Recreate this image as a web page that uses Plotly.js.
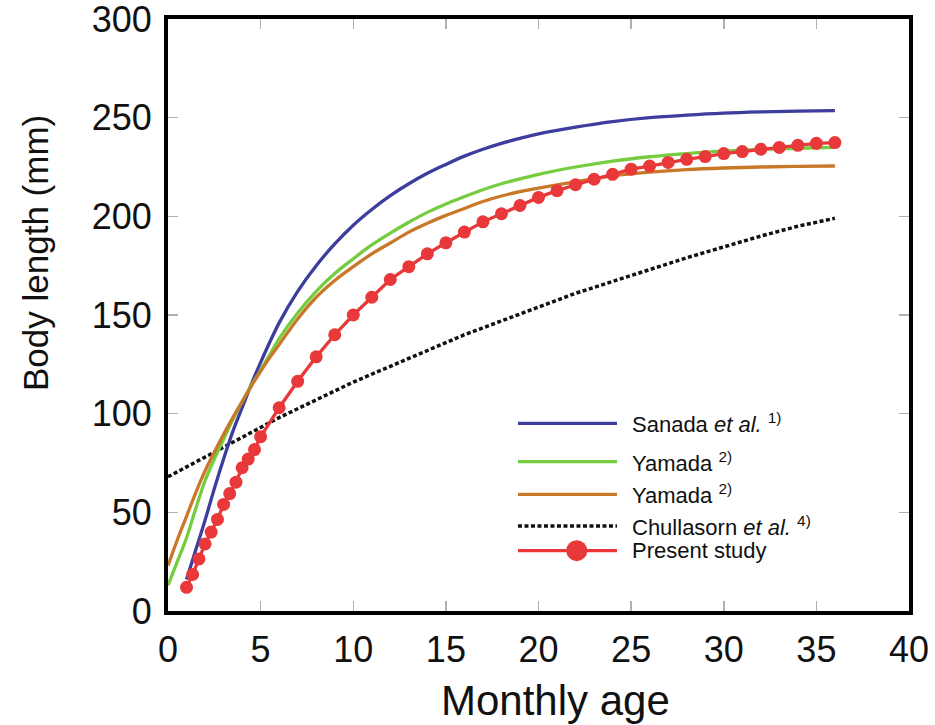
<!DOCTYPE html>
<html>
<head>
<meta charset="utf-8">
<script src="https://cdn.plot.ly/plotly-3.0.1.min.js"></script>
<style>html,body{margin:0;padding:0;background:#fff;}#chart{width:935px;height:725px;}</style>
</head>
<body>
<div id="chart"></div>
<script>
// Sanada et al. 1)
const sanadaX = [1,1.5,2,2.5,3,3.5,4,4.5,5,6,7,8,9,10,11,12,13,14,15,16,17,18,19,20,22,24,26,28,30,32,34,36];
const sanadaY = [16,31,46,62,77,91,103,115,126,146,162,175,186,195.5,203.5,210.5,216.5,221.8,226.3,230.5,234,237,239.5,241.8,245.2,248,250,251.3,252.3,252.9,253.3,253.6];
// Yamada 2) (green)
const yamadaGX = [0,0.5,1,1.5,2,2.5,3,3.5,4,4.5,5,5.5,6,7,8,9,10,11,12,13,14,15,16,17,18,19,20,22,24,26,28,30,32,34,36];
const yamadaGY = [13,25,37,52,66,77,87,97,106,114.5,122,130,138,151,162,171,178.5,185.5,191.5,197,202,206.3,210,213.5,216.5,219,221.3,225,228,230.2,231.8,233,233.9,234.5,234.9];
// Yamada 2) (orange)
const yamadaOX = [0,0.5,1,1.5,2,2.5,3,3.5,4,4.5,5,5.5,6,7,8,9,10,11,12,13,14,15,16,17,18,19,20,22,24,26,28,30,32,34,36];
const yamadaOY = [23,36,48,60,71,80.5,89.5,98,106,114,121.5,128.5,135,148,159,167.5,174.5,181,186.5,192,196.5,200.5,204,207.5,210.3,212.5,214.3,217.5,220.5,222.4,223.7,224.5,225,225.3,225.5];
// Chullasorn et al. 4)
const chullX = [0,2,4,6,8,10,12,14,16,18,20,22,24,26,28,30,32,34,36];
const chullY = [68,78,88,98,107,116,124,132,140,147,154,161,167,173,179,184.5,190,195,199];
// Present study
const presentX = [1,1.33,1.67,2,2.33,2.67,3,3.33,3.67,4,4.33,4.67,5,6,7,8,9,10,11,12,13,14,15,16,17,18,19,20,21,22,23,24,25,26,27,28,29,30,31,32,33,34,35,36];
const presentY = [12,18.5,26.4,34,40,46.4,54,59.5,65.3,72.6,77,81.8,88.3,103,116.4,128.8,140,150,159,168,174.5,181,186.6,192,197.2,201.3,205.5,209.6,213,216,218.8,221.3,223.9,225.5,227.3,228.9,230.3,231.8,232.8,234,234.9,236,237,237.4];

const legendLabels = ["Sanada <i>et al.</i> <sup>1)</sup>","Yamada <sup>2)</sup>","Yamada <sup>2)</sup>","Chullasorn <i>et al.</i> <sup>4)</sup>","Present study"];
const xTitle = "Monthly age";
const yTitle = "Body length (mm)";

const C_BLUE = '#3d3d9e', C_GREEN = '#74cc3e', C_ORANGE = '#c9782a', C_RED = '#e8383a';
const FONT = 'Liberation Sans, Arial, sans-serif';

const traces = [
  {x: chullX, y: chullY, mode:'lines', line:{color:'#111', width:3.5, dash:'4px,2.5px'}, showlegend:false},
  {x: sanadaX, y: sanadaY, mode:'lines', line:{color:C_BLUE, width:3.3, shape:'spline'}, showlegend:false},
  {x: yamadaGX, y: yamadaGY, mode:'lines', line:{color:C_GREEN, width:3.3, shape:'spline'}, showlegend:false},
  {x: yamadaOX, y: yamadaOY, mode:'lines', line:{color:C_ORANGE, width:3.3, shape:'spline'}, showlegend:false},
  {x: presentX, y: presentY, mode:'lines+markers', line:{color:C_RED, width:3.3}, marker:{color:C_RED, size:13}, showlegend:false}
];

// legend layout (paper coords)
const legRows = [0.317, 0.2522, 0.1971, 0.1436, 0.1019];
const legColors = [C_BLUE, C_GREEN, C_ORANGE, '#111', C_RED];
const legX0 = 0.4723, legX1 = 0.6059, legTextX = 0.6235;
const shapes = [];
const annotations = [];
legRows.forEach((yy, i) => {
  shapes.push({type:'line', xref:'paper', yref:'paper', x0:legX0, x1:legX1, y0:yy, y1:yy,
    line:{color:legColors[i], width: i===3 ? 3.5 : 3.3, dash: i===3 ? '4px,2.5px' : 'solid'}});
  annotations.push({xref:'paper', yref:'paper', x:legTextX, y:yy, xanchor:'left', yanchor:'middle',
    text: legendLabels[i], showarrow:false, font:{family:FONT, size:22, color:'#111'}});
});
shapes.push({type:'circle', xref:'paper', yref:'paper', xsizemode:'pixel', ysizemode:'pixel',
  xanchor:0.5516, yanchor:legRows[4], x0:-10.5, x1:10.5, y0:-10.5, y1:10.5,
  fillcolor:C_RED, line:{width:0}});

annotations.push({xref:'paper', yref:'paper', x:0.5236, y:-0.152, xanchor:'center', yanchor:'middle',
  text:xTitle, showarrow:false, font:{family:FONT, size:42, color:'#111'}});
annotations.push({xref:'paper', yref:'paper', x:-0.1795, y:0.6047, xanchor:'center', yanchor:'middle',
  text:yTitle, textangle:-90, showarrow:false, font:{family:FONT, size:35, color:'#111'}});

const axisCommon = {
  showgrid:false, zeroline:false, showline:true, linecolor:'#000', linewidth:4, mirror:'ticks',
  ticks:'inside', ticklen:10, tickwidth:1.5, tickcolor:'#b0b0b0', ticklabeloverflow:'allow',
  tickfont:{family:FONT, size:36, color:'#111'}
};

const layout = {
  width:935, height:725,
  margin:{l:168, r:26, t:19, b:114},
  paper_bgcolor:'#fff', plot_bgcolor:'#fff',
  xaxis: Object.assign({}, axisCommon, {range:[0,40], dtick:5, tick0:0, ticklabelstandoff:4}),
  yaxis: Object.assign({}, axisCommon, {range:[0,300], dtick:50, tick0:0, ticklabelstandoff:5}),
  shapes: shapes,
  annotations: annotations,
  showlegend:false
};

Plotly.newPlot('chart', traces, layout, {staticPlot:true, displayModeBar:false});
</script>
</body>
</html>
